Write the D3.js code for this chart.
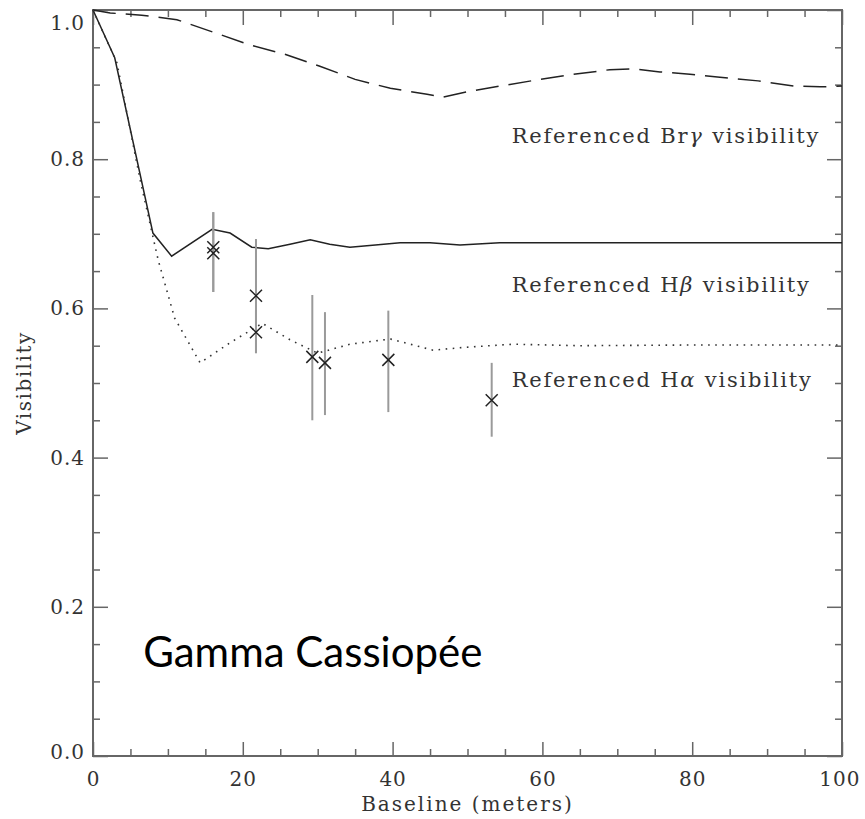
<!DOCTYPE html>
<html>
<head>
<meta charset="utf-8">
<script src="https://cdn.jsdelivr.net/npm/d3@7"></script>
<style>
body { margin: 0; background: #fff; }
</style>
</head>
<body>
<div id="chart"></div>
<script>
// model curves (baseline in meters, visibility)
var brgBase = [0, 2.3, 6.5, 11.2, 16.7, 21, 25.5, 30.2, 35, 39.7, 44.6, 46.7, 49.8, 54.3, 59.1, 63.6, 69, 72.4, 75.7, 79.7, 83.7, 88.8, 93.7, 97.1, 100];
var brgVis = [1.0, 0.996, 0.993, 0.987, 0.968, 0.953, 0.941, 0.925, 0.907, 0.895, 0.887, 0.883, 0.890, 0.898, 0.906, 0.913, 0.920, 0.921, 0.917, 0.914, 0.910, 0.905, 0.898, 0.897, 0.898];
var hbBase = [0, 2.9, 8.0, 10.5, 15.9, 18.3, 21.2, 23.4, 26.3, 29, 31.6, 34.3, 37.7, 41, 45, 49, 54.3, 62.3, 73, 100];
var hbVis = [1.0, 0.936, 0.701, 0.670, 0.706, 0.701, 0.682, 0.680, 0.686, 0.692, 0.686, 0.682, 0.685, 0.688, 0.688, 0.685, 0.688, 0.688, 0.688, 0.688];
var haBase = [0, 3.2, 6.3, 8.7, 10.9, 14.3, 18.3, 22.6, 26.3, 30, 34.3, 39.7, 45.4, 49.9, 56.1, 65, 81, 100];
var haVis = [1.0, 0.929, 0.772, 0.665, 0.587, 0.527, 0.554, 0.580, 0.558, 0.540, 0.552, 0.559, 0.544, 0.548, 0.552, 0.550, 0.551, 0.551];

// measured points
var obsBase = [16.06, 16.06, 21.76, 21.76, 29.28, 30.97, 39.43, 53.23];
var obsVis = [0.682, 0.674, 0.617, 0.568, 0.535, 0.527, 0.531, 0.477];
var obsLow = [0.622, 0.622, 0.540, 0.540, 0.450, 0.457, 0.461, 0.428];
var obsHigh = [0.729, 0.729, 0.693, 0.597, 0.618, 0.595, 0.597, 0.527];

var xMajor = [0, 20, 40, 60, 80, 100];
var yMajor = [0, 0.2, 0.4, 0.6, 0.8, 1.0];

var lineNames = ["Br", "H", "H"];
var lineGreek = ["\u03b3", "\u03b2", "\u03b1"];
var starName = "Gamma Cassiop\u00e9e";

var width = 865, height = 819;
var padLeft = 93, padRight = 842, padTop = 10, padBottom = 756;

var svg = d3.select("#chart")
            .append("svg")
            .attr("width", width)
            .attr("height", height);

var xScale = d3.scaleLinear().domain([0, 100]).range([padLeft, padRight]);
var yScale = d3.scaleLinear().domain([0, 1]).range([padBottom, padTop]);

var xMinor = d3.range(0, 101, 5).filter(function(d){ return d % 20 !== 0; });
var yMinor = d3.range(0, 21, 1).map(function(d){ return d / 20; })
               .filter(function(d){ return Math.round(d * 20) % 4 !== 0; });

var axisColor = "#666";

function styleAxis(g){
	g.select(".domain").remove();
	g.selectAll("line").style("stroke", axisColor).style("stroke-width", 1.5);
	g.selectAll("text")
	 .style("font-family", "DejaVu Serif")
	 .style("font-size", "20px")
	 .style("letter-spacing", "1px")
	 .style("fill", "#333");
}

// bottom
var xAxisG = svg.append("g")
                .attr("transform", "translate(0," + padBottom + ")")
                .call(d3.axisBottom(xScale).tickValues(xMajor).tickSize(-14).tickPadding(16).tickFormat(d3.format("d")))
                .call(styleAxis);
svg.append("g")
   .attr("transform", "translate(0," + padBottom + ")")
   .call(d3.axisBottom(xScale).tickValues(xMinor).tickSize(-7).tickFormat(""))
   .call(styleAxis);
// top
svg.append("g")
   .attr("transform", "translate(0," + padTop + ")")
   .call(d3.axisTop(xScale).tickValues(xMajor).tickSize(-15).tickFormat(""))
   .call(styleAxis);
svg.append("g")
   .attr("transform", "translate(0," + padTop + ")")
   .call(d3.axisTop(xScale).tickValues(xMinor).tickSize(-7).tickFormat(""))
   .call(styleAxis);
// left
var yAxisG = svg.append("g")
                .attr("transform", "translate(" + padLeft + ",0)")
                .call(d3.axisLeft(yScale).tickValues(yMajor).tickSize(-15).tickPadding(8).tickFormat(d3.format(".1f")))
                .call(styleAxis);
svg.append("g")
   .attr("transform", "translate(" + padLeft + ",0)")
   .call(d3.axisLeft(yScale).tickValues(yMinor).tickSize(-7).tickFormat(""))
   .call(styleAxis);
// right
svg.append("g")
   .attr("transform", "translate(" + padRight + ",0)")
   .call(d3.axisRight(yScale).tickValues(yMajor).tickSize(-15).tickFormat(""))
   .call(styleAxis);
svg.append("g")
   .attr("transform", "translate(" + padRight + ",0)")
   .call(d3.axisRight(yScale).tickValues(yMinor).tickSize(-7).tickFormat(""))
   .call(styleAxis);

// keep end labels inside like the original
yAxisG.selectAll(".tick text")
      .attr("dy", function(d){ return d === 1 ? "0.95em" : (d === 0 ? "0.1em" : "0.32em"); });
xAxisG.selectAll(".tick text")
      .attr("dx", function(d){
      	var b = this.getBBox();
      	var r = xScale(d) + b.x + b.width;
      	return r > width - 5 ? (width - 5 - r) : 0;
      });

// frame
svg.append("rect")
   .attr("x", padLeft)
   .attr("y", padTop)
   .attr("width", padRight - padLeft)
   .attr("height", padBottom - padTop)
   .style("fill", "none")
   .style("stroke", axisColor)
   .style("stroke-width", 2);

// curves
var line = d3.line()
             .x(function(d){ return xScale(d[0]); })
             .y(function(d){ return yScale(d[1]); });

svg.append("path")
   .datum(d3.zip(brgBase, brgVis))
   .attr("d", line)
   .style("fill", "none")
   .style("stroke", "#222")
   .style("stroke-width", 1.5)
   .style("stroke-dasharray", "23,10");

svg.append("path")
   .datum(d3.zip(hbBase, hbVis))
   .attr("d", line)
   .style("fill", "none")
   .style("stroke", "#222")
   .style("stroke-width", 1.5);

svg.append("path")
   .datum(d3.zip(haBase, haVis))
   .attr("d", line)
   .style("fill", "none")
   .style("stroke", "#333")
   .style("stroke-width", 1.6)
   .style("stroke-dasharray", "1.6,5.5");

// error bars
var obs = d3.range(obsBase.length);
svg.append("g")
   .selectAll("line")
   .data(obs)
   .enter()
   .append("line")
   .attr("x1", function(i){ return xScale(obsBase[i]); })
   .attr("x2", function(i){ return xScale(obsBase[i]); })
   .attr("y1", function(i){ return yScale(obsLow[i]); })
   .attr("y2", function(i){ return yScale(obsHigh[i]); })
   .style("stroke", "#9a9a9a")
   .style("stroke-width", 2);

// x markers
var mk = 6;
svg.append("g")
   .selectAll("path")
   .data(obs)
   .enter()
   .append("path")
   .attr("d", function(i){
   	var cx = xScale(obsBase[i]), cy = yScale(obsVis[i]);
   	return "M" + (cx - mk) + "," + (cy - mk) + "L" + (cx + mk) + "," + (cy + mk) +
   	       "M" + (cx - mk) + "," + (cy + mk) + "L" + (cx + mk) + "," + (cy - mk);
   })
   .style("stroke", "#222")
   .style("stroke-width", 1.5)
   .style("fill", "none");

// curve labels
var labelAt = [0.822, 0.622, 0.495];
var labels = svg.append("g")
                .selectAll("text")
                .data(lineNames)
                .enter()
                .append("text")
                .attr("x", xScale(55.9))
                .attr("y", function(d, i){ return yScale(labelAt[i]); })
                .style("font-family", "DejaVu Serif")
                .style("font-size", "21px")
                .style("letter-spacing", "1.8px")
                .style("fill", "#333");
labels.append("tspan").text(function(d){ return "Referenced " + d; });
labels.append("tspan").style("font-style", "italic").text(function(d, i){ return lineGreek[i]; });
labels.append("tspan").text(" visibility");

// axis titles
svg.append("text")
   .attr("x", xScale(50))
   .attr("y", 811)
   .style("text-anchor", "middle")
   .style("font-family", "DejaVu Serif")
   .style("font-size", "20px")
   .style("letter-spacing", "2px")
   .style("fill", "#333")
   .text("Baseline (meters)");

svg.append("text")
   .attr("transform", "translate(31," + yScale(0.5) + ") rotate(-90)")
   .style("text-anchor", "middle")
   .style("font-family", "DejaVu Serif")
   .style("font-size", "20px")
   .style("letter-spacing", "1.5px")
   .style("fill", "#333")
   .text("Visibility");

// star name
svg.append("text")
   .attr("x", xScale(6.7))
   .attr("y", yScale(0.119))
   .style("font-family", "Lato")
   .style("font-size", "42px")
   .style("fill", "#000")
   .text(starName);
</script>
</body>
</html>
